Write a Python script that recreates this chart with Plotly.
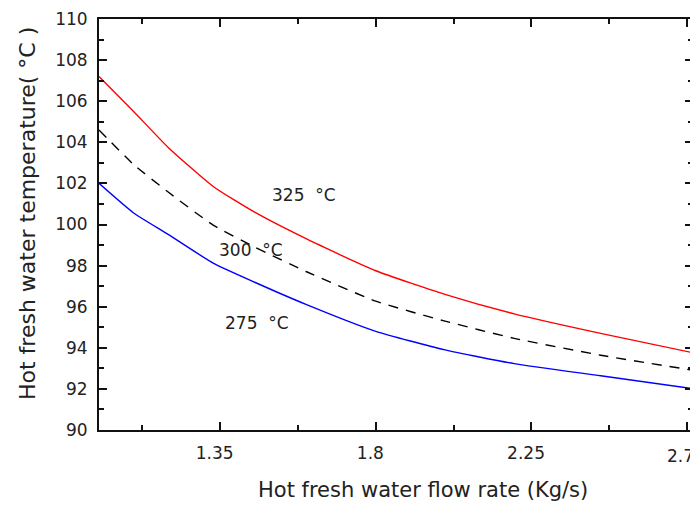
import plotly.graph_objects as go

flow_rate = [1.0, 1.1, 1.2, 1.33, 1.45, 1.6, 1.8, 2.0, 2.2, 2.45, 2.72]
temp_325 = [107.2, 105.5, 103.75, 101.85, 100.6, 99.3, 97.75, 96.6, 95.65, 94.7, 93.75]
temp_300 = [104.6, 102.92, 101.58, 99.97, 98.9, 97.7, 96.27, 95.3, 94.46, 93.64, 92.9]
temp_275 = [102.0, 100.56, 99.52, 98.12, 97.19, 96.1, 94.8, 93.9, 93.23, 92.64, 92.0]

series_names = ["325 °C", "300 °C", "275 °C"]
label_x = [1.593, 1.44, 1.457]
label_y = [101.44, 98.76, 95.2]

x_tickvals = [1.35, 1.8, 2.25, 2.7]
x_ticktext = ["1.35", "1.8", "2.25", "2.7"]
x_minor = [1.125, 1.575, 2.025, 2.475]

x_title = "Hot fresh water flow rate (Kg/s)"
y_title = "Hot fresh water temperature( °C )"

FONT = "DejaVu Sans, Verdana, sans-serif"
AX = "#111111"
NB = "\u00a0\u00a0"

fig = go.Figure()
fig.add_trace(go.Scatter(x=flow_rate, y=temp_325, mode="lines", name=series_names[0],
                         line=dict(color="#ff0000", width=1.4, shape="spline", smoothing=0.5)))
fig.add_trace(go.Scatter(x=flow_rate, y=temp_300, mode="lines", name=series_names[1],
                         line=dict(color="#000000", width=1.4, dash="10px,8px", shape="spline", smoothing=0.5)))
fig.add_trace(go.Scatter(x=flow_rate, y=temp_275, mode="lines", name=series_names[2],
                         line=dict(color="#0000ff", width=1.4, shape="spline", smoothing=0.5)))

for name, lx, ly in zip(series_names, label_x, label_y):
    fig.add_annotation(x=lx, y=ly, text=name.replace(" ", "  "), showarrow=False,
                       font=dict(family=FONT, size=17, color="#222222"))

# last x tick label sits at the right edge: drawn as an annotation nudged inward
shown_ticktext = [t + NB for t in x_ticktext[:-1]] + [""]
fig.add_annotation(x=x_tickvals[-1], xref="x", y=0, yref="paper", yanchor="top", xanchor="center",
                   xshift=-7, yshift=-14, text=x_ticktext[-1], showarrow=False,
                   font=dict(family=FONT, size=17, color="#222222"))

# axis titles placed as annotations (offset from the axis centre as in the reference)
fig.add_annotation(xref="paper", yref="paper", x=0.5455, y=-0.146, xanchor="center", yanchor="middle",
                   text=x_title, showarrow=False, font=dict(family=FONT, size=21, color="#222222"))
fig.add_annotation(xref="paper", yref="paper", x=-0.1212, y=0.5255, xanchor="center", yanchor="middle",
                   text=y_title, textangle=-90, showarrow=False,
                   font=dict(family=FONT, size=22, color="#222222"))

# the page body has an 8px margin, so the figure is sized/offset to compensate
fig.update_layout(
    width=690, height=498,
    margin=dict(l=91, r=5, t=11, b=76),
    paper_bgcolor="white", plot_bgcolor="white",
    showlegend=False,
    font=dict(family=FONT, size=17, color="#222222"),
)
fig.update_xaxes(
    range=[1.0, 2.717], tickvals=x_tickvals, ticktext=shown_ticktext,
    ticks="inside", ticklen=8, tickwidth=2, tickcolor=AX,
    ticklabelstandoff=7, ticklabeloverflow="allow",
    minor=dict(tickvals=x_minor, ticks="inside", ticklen=5, tickwidth=2, tickcolor=AX),
    showline=True, linecolor=AX, linewidth=2, mirror="ticks",
    showgrid=False, zeroline=False, automargin=False,
)
fig.update_yaxes(
    range=[90, 110], dtick=2, tick0=90,
    ticks="inside", ticklen=8, tickwidth=2, tickcolor=AX,
    ticklabelstandoff=6, ticklabeloverflow="allow",
    minor=dict(dtick=1, ticks="inside", ticklen=5, tickwidth=2, tickcolor=AX),
    showline=True, linecolor=AX, linewidth=2, mirror="ticks",
    showgrid=False, zeroline=False, automargin=False,
)

fig.write_html("out.html")
